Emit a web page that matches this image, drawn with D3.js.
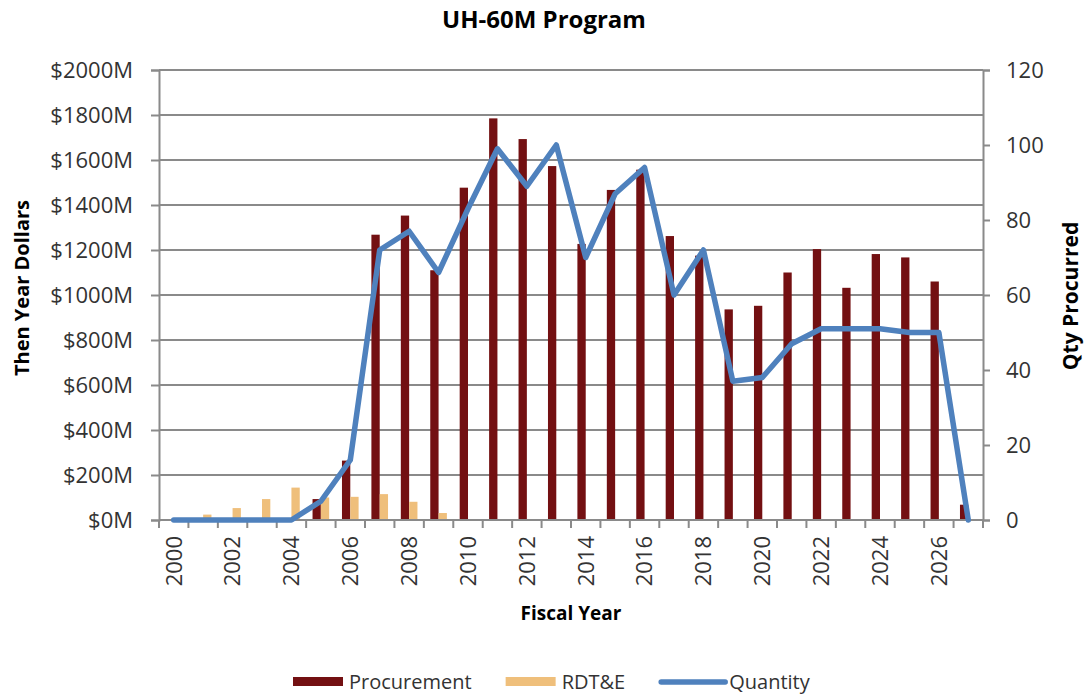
<!DOCTYPE html>
<html>
<head>
<meta charset="utf-8">
<script src="https://cdn.jsdelivr.net/npm/d3@7"></script>
<style>
  html, body { margin: 0; padding: 0; background: #fff; }
  svg { display: block; font-family: "Open Sans", sans-serif; }
</style>
</head>
<body>
<svg width="1088" height="695"></svg>
<script>
// chart values
const years = [2000, 2001, 2002, 2003, 2004, 2005, 2006, 2007, 2008, 2009,
  2010, 2011, 2012, 2013, 2014, 2015, 2016, 2017, 2018, 2019,
  2020, 2021, 2022, 2023, 2024, 2025, 2026, 2027];
const procurement = [0, 0, 0, 0, 0, 93, 264, 1268, 1353, 1110,
  1477, 1785, 1693, 1573, 1227, 1467, 1557, 1262, 1175, 936,
  952, 1100, 1204, 1032, 1182, 1167, 1060, 68];
const rdte = [0, 24, 53, 93, 144, 100, 103, 115, 81, 31,
  0, 0, 0, 0, 0, 0, 0, 0, 0, 0,
  0, 0, 0, 0, 0, 0, 0, 0];
const quantity = [0, 0, 0, 0, 0, 5, 16, 72, 77, 66,
  83, 99, 89, 100, 70, 87, 94, 60, 72, 37,
  38, 47, 51, 51, 51, 50, 50, 0];
const dollarTicks = [0, 200, 400, 600, 800, 1000, 1200, 1400, 1600, 1800, 2000];
const qtyTicks = [0, 20, 40, 60, 80, 100, 120];
const yearLabels = [2000, 2002, 2004, 2006, 2008, 2010, 2012, 2014, 2016, 2018, 2020, 2022, 2024, 2026];
const seriesNames = ["Procurement", "RDT&E"];

const colors = { "Procurement": "#731012", "RDT&E": "#efbf7b", "Quantity": "#4f81bd" };
const gridColor = "#8a8a8a";
const textColor = "#333333";

const width = 1088, height = 695;
const margin = { top: 70, right: 105, bottom: 175, left: 159 };
const plotBottom = height - margin.bottom; // 520
const plotRight = width - margin.right;   // 983

const svg = d3.select("svg");

const x = d3.scaleBand()
  .domain(years)
  .range([margin.left, plotRight])
  .padding(0);

const xInner = d3.scaleBand()
  .domain(seriesNames)
  .range([0, x.bandwidth()])
  .paddingInner(0)
  .paddingOuter(0.77);

const y = d3.scaleLinear()
  .domain([0, 2000])
  .range([plotBottom, margin.top]);

const yQty = d3.scaleLinear()
  .domain([0, 120])
  .range([plotBottom, margin.top]);

// gridlines
svg.append("g")
  .selectAll("line")
  .data(dollarTicks)
  .join("line")
  .attr("x1", margin.left)
  .attr("x2", plotRight)
  .attr("y1", d => y(d))
  .attr("y2", d => y(d))
  .attr("stroke", gridColor)
  .attr("stroke-width", 2);

// left axis
const yAxis = svg.append("g")
  .attr("transform", `translate(${margin.left},0)`)
  .call(d3.axisLeft(y).tickValues(dollarTicks).tickSize(8).tickPadding(18)
    .tickFormat(d => "$" + d + "M"));
yAxis.select(".domain").attr("stroke", gridColor).attr("stroke-width", 2);
yAxis.selectAll(".tick line").attr("stroke", gridColor).attr("stroke-width", 2);
yAxis.selectAll(".tick text")
  .attr("fill", textColor)
  .style("font-size", "22px")
  .style("font-family", "Open Sans");

// right axis
const yAxisR = svg.append("g")
  .attr("transform", `translate(${plotRight},0)`)
  .call(d3.axisRight(yQty).tickValues(qtyTicks).tickSize(7).tickPadding(16));
yAxisR.select(".domain").attr("stroke", gridColor).attr("stroke-width", 2);
yAxisR.selectAll(".tick line").attr("stroke", gridColor).attr("stroke-width", 2);
yAxisR.selectAll(".tick text")
  .attr("fill", textColor)
  .style("font-size", "22px")
  .style("font-family", "Open Sans");

// bars
const groups = svg.append("g")
  .selectAll("g")
  .data(years.map((yr, i) => ({ year: yr, values: [
    { key: "Procurement", value: procurement[i] },
    { key: "RDT&E", value: rdte[i] }
  ] })))
  .join("g")
  .attr("transform", d => `translate(${x(d.year)},0)`);

groups.selectAll("rect")
  .data(d => d.values.filter(v => v.value > 0))
  .join("rect")
  .attr("x", d => xInner(d.key))
  .attr("width", xInner.bandwidth())
  .attr("y", d => y(d.value))
  .attr("height", d => y(0) - y(d.value))
  .attr("fill", d => colors[d.key]);

// bottom axis: ticks on category boundaries, labels on even years
const xAxis = svg.append("g")
  .attr("transform", `translate(0,${plotBottom})`);
xAxis.append("line")
  .attr("x1", margin.left)
  .attr("x2", plotRight)
  .attr("stroke", gridColor)
  .attr("stroke-width", 2);
xAxis.selectAll(".bound")
  .data(years.map(d => x(d)).concat([x(years[years.length - 1]) + x.bandwidth()]))
  .join("line")
  .attr("class", "bound")
  .attr("x1", d => d)
  .attr("x2", d => d)
  .attr("y1", 0)
  .attr("y2", 8)
  .attr("stroke", gridColor)
  .attr("stroke-width", 2);
xAxis.selectAll(".lbl")
  .data(yearLabels)
  .join("text")
  .attr("class", "lbl")
  .attr("transform", d => `translate(${x(d) + x.bandwidth() / 2},0) rotate(-90)`)
  .attr("x", -16)
  .attr("dy", "0.36em")
  .attr("text-anchor", "end")
  .attr("fill", textColor)
  .style("font-size", "22px")
  .text(d => d);

// quantity line
const line = d3.line()
  .x((d, i) => x(years[i]) + x.bandwidth() / 2)
  .y(d => yQty(d));

svg.append("path")
  .datum(quantity)
  .attr("fill", "none")
  .attr("stroke", colors.Quantity)
  .attr("stroke-width", 5.5)
  .attr("stroke-linejoin", "round")
  .attr("stroke-linecap", "round")
  .attr("d", line);

// titles
svg.append("text")
  .attr("x", width / 2)
  .attr("y", 28)
  .attr("text-anchor", "middle")
  .style("font-size", "24px")
  .style("font-weight", "bold")
  .text("UH-60M Program");

svg.append("text")
  .attr("x", (margin.left + plotRight) / 2)
  .attr("y", 620)
  .attr("text-anchor", "middle")
  .style("font-size", "19px")
  .style("font-weight", "bold")
  .text("Fiscal Year");

svg.append("text")
  .attr("transform", "translate(29,288) rotate(-90)")
  .attr("text-anchor", "middle")
  .style("font-size", "20px")
  .style("font-weight", "bold")
  .text("Then Year Dollars");

svg.append("text")
  .attr("transform", "translate(1078,296) rotate(-90)")
  .attr("text-anchor", "middle")
  .style("font-size", "21px")
  .style("font-weight", "bold")
  .text("Qty Procurred");

// legend
const legendItems = ["Procurement", "RDT&E", "Quantity"];
const legend = svg.append("g").attr("transform", "translate(293,0)");
let lx = 0;
legendItems.forEach(name => {
  const g = legend.append("g").attr("transform", `translate(${lx},0)`);
  if (name === "Quantity") {
    g.append("line")
      .attr("x1", 2).attr("x2", 66)
      .attr("y1", 682).attr("y2", 682)
      .attr("stroke", colors[name])
      .attr("stroke-width", 5.5)
      .attr("stroke-linecap", "round");
  } else {
    g.append("rect")
      .attr("x", 0).attr("y", 677)
      .attr("width", 50).attr("height", 9)
      .attr("fill", colors[name]);
  }
  const sw = name === "Quantity" ? 70 : 56;
  const t = g.append("text")
    .attr("x", sw)
    .attr("y", 689)
    .attr("fill", textColor)
    .style("font-size", "20px")
    .text(name);
  lx += sw + t.node().getComputedTextLength() + 34;
});
</script>
</body>
</html>
